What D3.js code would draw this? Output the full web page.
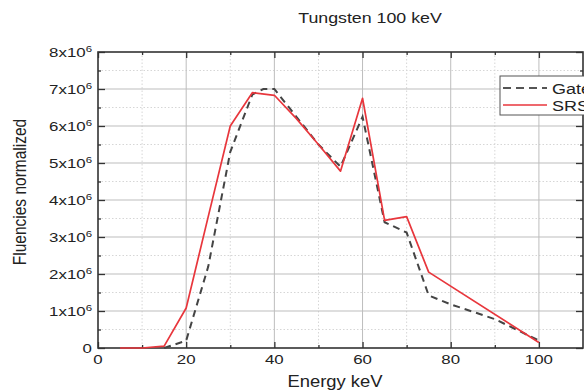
<!DOCTYPE html>
<html>
<head>
<meta charset="utf-8">
<script src="https://cdn.jsdelivr.net/npm/d3@7"></script>
<style>
  body { margin: 0; background: #fff; }
  text { font-family: "Liberation Sans", Arial, sans-serif; fill: #222; }
</style>
</head>
<body>
<div id="chart"></div>
<script>
// energies (keV) and normalized fluencies (x10^6)
const gateEnergy = [15, 20, 25, 30, 35, 37.5, 40, 45, 50, 55, 60, 65, 70, 75, 80, 90, 100];
const gateFluence = [0, 0.2, 2.2, 5.3, 6.85, 7.0, 7.0, 6.25, 5.5, 4.9, 6.25, 3.4, 3.12, 1.42, 1.18, 0.78, 0.2];
const srsEnergy = [5, 10, 15, 20, 25, 30, 35, 40, 45, 50, 55, 60, 65, 70, 75, 100];
const srsFluence = [0, 0, 0.05, 1.08, 3.55, 6.0, 6.9, 6.83, 6.2, 5.5, 4.78, 6.75, 3.45, 3.55, 2.05, 0.15];
const xTicks = [0, 20, 40, 60, 80, 100];
const yTicks = [0, 1, 2, 3, 4, 5, 6, 7, 8];
const seriesNames = ["Gate", "SRS"];

const width = 584, height = 390;
const mLeft = 98, mRight = 583, mTop = 52, mBottom = 348;
const sx = 1.35; // the picture is stretched sideways

const svg = d3.select("#chart").append("svg")
  .attr("width", width)
  .attr("height", height);

const x = d3.scaleLinear().domain([0, 110]).range([mLeft, mRight]);
const y = d3.scaleLinear().domain([0, 8e6]).range([mBottom, mTop]);

// grid
const minorX = d3.range(10, 110, 20);
const minorY = d3.range(0.5e6, 8e6, 1e6);

svg.append("g").selectAll("line").data(minorX).join("line")
  .attr("x1", d => x(d)).attr("x2", d => x(d))
  .attr("y1", mTop).attr("y2", mBottom)
  .attr("stroke", "#d6d6d6").attr("stroke-dasharray", "1.5,2");
svg.append("g").selectAll("line").data(minorY).join("line")
  .attr("x1", mLeft).attr("x2", mRight)
  .attr("y1", d => y(d)).attr("y2", d => y(d))
  .attr("stroke", "#d6d6d6").attr("stroke-dasharray", "1.5,2");
svg.append("g").selectAll("line").data(xTicks.slice(1)).join("line")
  .attr("x1", d => x(d)).attr("x2", d => x(d))
  .attr("y1", mTop).attr("y2", mBottom)
  .attr("stroke", "#bdbdbd");
svg.append("g").selectAll("line").data(yTicks.slice(1, -1)).join("line")
  .attr("x1", mLeft).attr("x2", mRight)
  .attr("y1", d => y(d * 1e6)).attr("y2", d => y(d * 1e6))
  .attr("stroke", "#bdbdbd");

// axes with inward ticks
svg.append("g").attr("transform", `translate(0,${mBottom})`)
  .call(d3.axisTop(x).tickValues(xTicks).tickSize(6).tickFormat(""))
  .call(g => g.select(".domain").remove());
svg.append("g").attr("transform", `translate(0,${mBottom})`)
  .call(d3.axisTop(x).tickValues(minorX).tickSize(3).tickFormat(""))
  .call(g => g.select(".domain").remove());
svg.append("g").attr("transform", `translate(0,${mTop})`)
  .call(d3.axisBottom(x).tickValues(xTicks).tickSize(6).tickFormat(""))
  .call(g => g.select(".domain").remove());
svg.append("g").attr("transform", `translate(0,${mTop})`)
  .call(d3.axisBottom(x).tickValues(minorX).tickSize(3).tickFormat(""))
  .call(g => g.select(".domain").remove());
svg.append("g").attr("transform", `translate(${mLeft},0)`)
  .call(d3.axisRight(y).tickValues(yTicks.map(d => d * 1e6)).tickSize(7).tickFormat(""))
  .call(g => g.select(".domain").remove());
svg.append("g").attr("transform", `translate(${mLeft},0)`)
  .call(d3.axisRight(y).tickValues(minorY).tickSize(3).tickFormat(""))
  .call(g => g.select(".domain").remove());
svg.append("g").attr("transform", `translate(${mRight},0)`)
  .call(d3.axisLeft(y).tickValues(yTicks.map(d => d * 1e6)).tickSize(7).tickFormat(""))
  .call(g => g.select(".domain").remove());
svg.append("g").attr("transform", `translate(${mRight},0)`)
  .call(d3.axisLeft(y).tickValues(minorY).tickSize(3).tickFormat(""))
  .call(g => g.select(".domain").remove());
svg.selectAll(".tick line").attr("stroke", "#333").attr("stroke-width", 1.3);

// frame
svg.append("rect")
  .attr("x", mLeft).attr("y", mTop)
  .attr("width", mRight - mLeft).attr("height", mBottom - mTop)
  .attr("fill", "none").attr("stroke", "#333").attr("stroke-width", 1.6);

// tick labels
svg.append("g").selectAll("text").data(xTicks).join("text")
  .attr("transform", d => `translate(${x(d)},${mBottom + 16}) scale(${sx},1)`)
  .attr("text-anchor", "middle")
  .style("font-size", "12.5px")
  .text(d => d);

const yl = svg.append("g").selectAll("text").data(yTicks).join("text")
  .attr("transform", d => `translate(92,${y(d * 1e6) + 4.5}) scale(${sx},1)`)
  .attr("text-anchor", "end")
  .style("font-size", "12.5px");
yl.filter(d => d === 0).text("0");
yl.filter(d => d !== 0).each(function (d) {
  const t = d3.select(this);
  t.append("tspan").text(`${d}x10`);
  t.append("tspan").attr("dy", -5).style("font-size", "8.5px").text("6");
});

// series
const line = d3.line().x(d => x(d[0])).y(d => y(d[1] * 1e6));
const gatePts = gateEnergy.map((e, i) => [e, gateFluence[i]]);
const srsPts = srsEnergy.map((e, i) => [e, srsFluence[i]]);

svg.append("path").datum(gatePts)
  .attr("d", line)
  .attr("fill", "none").attr("stroke", "#444")
  .attr("stroke-width", 2).attr("stroke-dasharray", "7,5");
svg.append("path").datum(srsPts)
  .attr("d", line)
  .attr("fill", "none").attr("stroke", "#e8363c")
  .attr("stroke-width", 1.7).attr("stroke-linejoin", "round");

// legend (runs off the right edge like the original)
const lg = svg.append("g").attr("transform", "translate(500,76)");
lg.append("rect").attr("width", 110).attr("height", 39)
  .attr("fill", "#fff").attr("stroke", "#555").attr("stroke-width", 1);
lg.append("line").attr("x1", 3).attr("x2", 47).attr("y1", 12).attr("y2", 12)
  .attr("stroke", "#555").attr("stroke-width", 2).attr("stroke-dasharray", "8,5");
lg.append("line").attr("x1", 3).attr("x2", 47).attr("y1", 29).attr("y2", 29)
  .attr("stroke", "#e8363c").attr("stroke-width", 1.5);
lg.selectAll("text.lab").data(seriesNames).join("text")
  .attr("class", "lab")
  .attr("transform", (d, i) => `translate(52,${17.5 + i * 17}) scale(1.2,1)`)
  .style("font-size", "15px")
  .text(d => d);

// titles
svg.append("text")
  .attr("transform", `translate(370,23) scale(1.27,1)`)
  .attr("text-anchor", "middle")
  .style("font-size", "14px")
  .text("Tungsten 100 keV");
svg.append("text")
  .attr("transform", `translate(335,387) scale(1.15,1)`)
  .attr("text-anchor", "middle")
  .style("font-size", "16px")
  .text("Energy keV");
svg.append("text")
  .attr("transform", `translate(26,192) rotate(-90) scale(1,1.15)`)
  .attr("text-anchor", "middle")
  .style("font-size", "15.5px")
  .text("Fluencies normalized");
</script>
</body>
</html>
